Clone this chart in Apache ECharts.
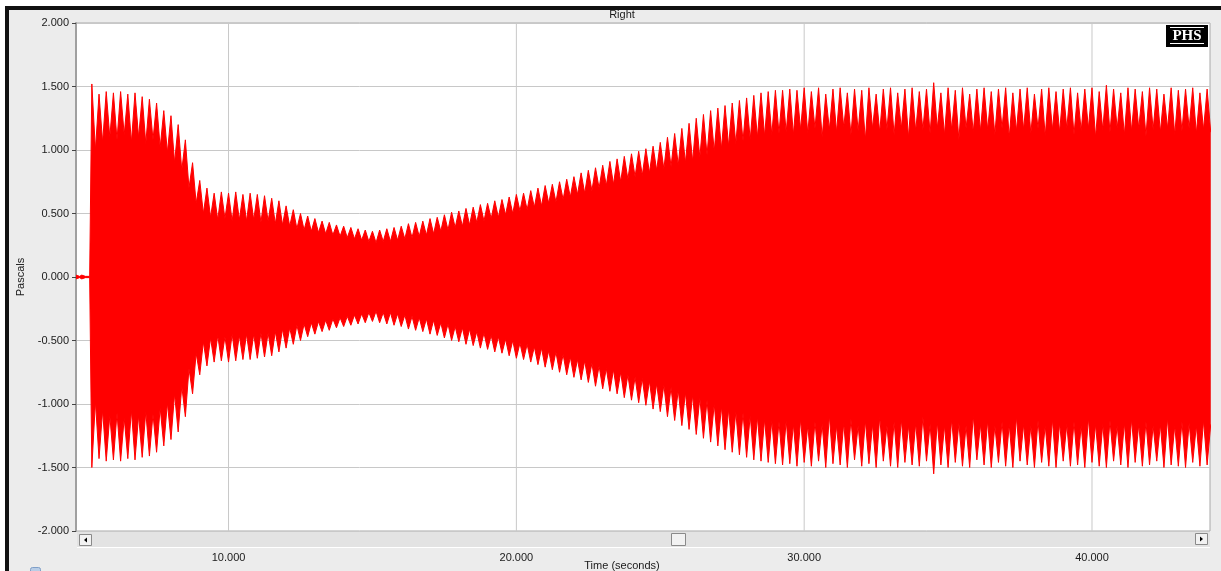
<!DOCTYPE html>
<html>
<head>
<meta charset="utf-8">
<script src="https://cdn.jsdelivr.net/npm/echarts@6/dist/echarts.min.js"></script>
<style>html,body{margin:0;padding:0;background:#fff}#c{width:1221px;height:571px}</style>
</head>
<body>
<div id="c"></div>
<script>
// ---- data (time in seconds, pressure in Pascals) ----
// one entry per visible oscillation spike (plus the quiet lead-in)
const spikeTimes = [4.7, 4.9, 5.05,
  5.25, 5.5, 5.75, 6.0,   6.25, 6.5, 6.75, 7.0,   7.25, 7.5, 7.75, 8.0,   8.25, 8.5, 8.75, 9.0,
  9.25, 9.5, 9.75, 10.0,  10.25, 10.5, 10.75, 11.0, 11.25, 11.5, 11.75, 12.0, 12.25, 12.5, 12.75, 13.0,
  13.25, 13.5, 13.75, 14.0, 14.25, 14.5, 14.75, 15.0, 15.25, 15.5, 15.75, 16.0, 16.25, 16.5, 16.75, 17.0,
  17.25, 17.5, 17.75, 18.0, 18.25, 18.5, 18.75, 19.0, 19.25, 19.5, 19.75, 20.0, 20.25, 20.5, 20.75, 21.0,
  21.25, 21.5, 21.75, 22.0, 22.25, 22.5, 22.75, 23.0, 23.25, 23.5, 23.75, 24.0, 24.25, 24.5, 24.75, 25.0,
  25.25, 25.5, 25.75, 26.0, 26.25, 26.5, 26.75, 27.0, 27.25, 27.5, 27.75, 28.0, 28.25, 28.5, 28.75, 29.0,
  29.25, 29.5, 29.75, 30.0, 30.25, 30.5, 30.75, 31.0, 31.25, 31.5, 31.75, 32.0, 32.25, 32.5, 32.75, 33.0,
  33.25, 33.5, 33.75, 34.0, 34.25, 34.5, 34.75, 35.0, 35.25, 35.5, 35.75, 36.0, 36.25, 36.5, 36.75, 37.0,
  37.25, 37.5, 37.75, 38.0, 38.25, 38.5, 38.75, 39.0, 39.25, 39.5, 39.75, 40.0, 40.25, 40.5, 40.75, 41.0,
  41.25, 41.5, 41.75, 42.0, 42.25, 42.5, 42.75, 43.0, 43.25, 43.5, 43.75, 44.0];

// upper spike tips
const hiPeak = [0.015, 0.015, 0.015,
  1.52, 1.44, 1.46, 1.45,  1.46, 1.44, 1.45, 1.42,  1.40, 1.37, 1.31, 1.27,  1.20, 1.08, 0.90, 0.76,
  0.70, 0.66, 0.67, 0.66,  0.67, 0.65, 0.66, 0.65,  0.64, 0.62, 0.60, 0.56,  0.53, 0.50, 0.48, 0.46,
  0.44, 0.43, 0.41, 0.40,  0.39, 0.38, 0.37, 0.36,  0.37, 0.38, 0.39, 0.40,  0.42, 0.43, 0.44, 0.46,
  0.47, 0.49, 0.51, 0.52,  0.54, 0.55, 0.57, 0.58,  0.60, 0.61, 0.63, 0.65,  0.66, 0.68, 0.70, 0.72,
  0.73, 0.75, 0.77, 0.79,  0.82, 0.84, 0.86, 0.88,  0.91, 0.93, 0.95, 0.97,  0.99, 1.01, 1.03, 1.06,
  1.10, 1.13, 1.17, 1.21,  1.25, 1.28, 1.31, 1.33,  1.35, 1.37, 1.39, 1.41,  1.43, 1.45, 1.46, 1.47,
  1.47, 1.48, 1.47, 1.49,  1.46, 1.49, 1.44, 1.48,  1.49, 1.45, 1.48, 1.47,  1.49, 1.44, 1.48, 1.49,
  1.45, 1.48, 1.49, 1.46,  1.48, 1.53, 1.45, 1.49,  1.47, 1.49, 1.44, 1.48,  1.49, 1.46, 1.48, 1.49,
  1.45, 1.48, 1.49, 1.44,  1.48, 1.49, 1.46, 1.48,  1.49, 1.45, 1.48, 1.49,  1.46, 1.51, 1.48, 1.45,
  1.49, 1.48, 1.46, 1.49,  1.48, 1.44, 1.49, 1.47,  1.48, 1.49, 1.45, 1.48];

// bottom of the white notches between upper spikes
const hiNotch = [0.005, 0.005, 0.005,
  1.00, 1.06, 1.10, 1.08,  1.12, 1.06, 1.10, 1.05,  1.08, 1.02, 0.98, 0.90,  0.84, 0.70, 0.58, 0.50,
  0.47, 0.45, 0.46, 0.44,  0.45, 0.44, 0.45, 0.43,  0.44, 0.42, 0.41, 0.40,  0.38, 0.37, 0.36, 0.35,
  0.34, 0.33, 0.32, 0.31,  0.30, 0.29, 0.28, 0.27,  0.28, 0.28, 0.29, 0.30,  0.31, 0.32, 0.33, 0.34,
  0.36, 0.37, 0.39, 0.40,  0.41, 0.43, 0.44, 0.46,  0.47, 0.49, 0.50, 0.52,  0.53, 0.55, 0.56, 0.58,
  0.59, 0.61, 0.63, 0.65,  0.66, 0.68, 0.70, 0.72,  0.73, 0.75, 0.77, 0.79,  0.80, 0.82, 0.84, 0.85,
  0.87, 0.88, 0.90, 0.91,  0.94, 0.96, 0.99, 1.01,  1.03, 1.05, 1.07, 1.08,  1.10, 1.11, 1.12, 1.13,
  1.14, 1.12, 1.16, 1.13,  1.17, 1.10, 1.16, 1.14,  1.18, 1.12, 1.15, 1.08,  1.17, 1.14, 1.16, 1.12,
  1.17, 1.10, 1.15, 1.16,  1.13, 1.17, 1.12, 1.16,  1.08, 1.17, 1.14, 1.15,  1.16, 1.12, 1.17, 1.10,
  1.15, 1.16, 1.13, 1.17,  1.11, 1.16, 1.14, 1.17,  1.12, 1.15, 1.17, 1.10,  1.16, 1.14, 1.17, 1.12,
  1.15, 1.17, 1.11, 1.16,  1.14, 1.17, 1.12, 1.15,  1.17, 1.13, 1.16, 1.14];

// lower spike tips
const loPeak = [-0.015, -0.015, -0.015,
  -1.50, -1.43, -1.45, -1.44,  -1.45, -1.43, -1.44, -1.42,  -1.41, -1.38, -1.33, -1.28,  -1.22, -1.10, -0.92, -0.77,
  -0.70, -0.67, -0.66, -0.67,  -0.66, -0.65, -0.65, -0.64,  -0.63, -0.62, -0.59, -0.56,  -0.53, -0.50, -0.47, -0.45,
  -0.43, -0.42, -0.40, -0.39,  -0.38, -0.37, -0.36, -0.35,  -0.36, -0.37, -0.38, -0.39,  -0.41, -0.42, -0.43, -0.45,
  -0.46, -0.48, -0.50, -0.51,  -0.53, -0.54, -0.56, -0.57,  -0.59, -0.60, -0.62, -0.64,  -0.65, -0.67, -0.69, -0.71,
  -0.73, -0.75, -0.77, -0.79,  -0.81, -0.83, -0.86, -0.88,  -0.90, -0.92, -0.95, -0.97,  -0.99, -1.01, -1.04, -1.06,
  -1.10, -1.13, -1.17, -1.20,  -1.24, -1.27, -1.30, -1.33,  -1.36, -1.38, -1.40, -1.42,  -1.44, -1.45, -1.46, -1.47,
  -1.48, -1.47, -1.49, -1.46,  -1.49, -1.45, -1.50, -1.47,  -1.48, -1.50, -1.44, -1.49,  -1.47, -1.50, -1.45, -1.49,
  -1.50, -1.46, -1.48, -1.49,  -1.45, -1.55, -1.48, -1.50,  -1.46, -1.49, -1.50, -1.44,  -1.48, -1.50, -1.46, -1.49,
  -1.50, -1.45, -1.48, -1.50,  -1.46, -1.49, -1.50, -1.45,  -1.49, -1.48, -1.50, -1.46,  -1.49, -1.50, -1.45, -1.48,
  -1.50, -1.46, -1.49, -1.48,  -1.45, -1.50, -1.48, -1.49,  -1.50, -1.46, -1.49, -1.48];

// top of the white notches between lower spikes
const loNotch = [-0.005, -0.005, -0.005,
  -0.98, -1.05, -1.09, -1.07,  -1.11, -1.05, -1.09, -1.06,  -1.08, -1.03, -0.99, -0.92,  -0.86, -0.72, -0.60, -0.51,
  -0.48, -0.46, -0.47, -0.45,  -0.46, -0.45, -0.45, -0.44,  -0.44, -0.43, -0.41, -0.40,  -0.38, -0.37, -0.36, -0.35,
  -0.34, -0.33, -0.32, -0.31,  -0.30, -0.29, -0.28, -0.27,  -0.28, -0.28, -0.29, -0.30,  -0.31, -0.32, -0.33, -0.34,
  -0.36, -0.37, -0.39, -0.40,  -0.41, -0.43, -0.44, -0.46,  -0.47, -0.49, -0.50, -0.52,  -0.53, -0.55, -0.56, -0.58,
  -0.59, -0.61, -0.63, -0.65,  -0.66, -0.68, -0.70, -0.72,  -0.73, -0.75, -0.77, -0.79,  -0.80, -0.82, -0.84, -0.85,
  -0.87, -0.89, -0.91, -0.93,  -0.95, -0.97, -1.00, -1.02,  -1.04, -1.06, -1.07, -1.09,  -1.10, -1.12, -1.13, -1.14,
  -1.13, -1.16, -1.12, -1.17,  -1.14, -1.16, -1.09, -1.17,  -1.15, -1.12, -1.17, -1.13,  -1.16, -1.10, -1.17, -1.14,
  -1.12, -1.17, -1.15, -1.10,  -1.16, -1.14, -1.17, -1.12,  -1.15, -1.17, -1.09, -1.16,  -1.13, -1.17, -1.14, -1.16,
  -1.10, -1.16, -1.17, -1.13,  -1.17, -1.12, -1.15, -1.16,  -1.14, -1.17, -1.11, -1.16,  -1.16, -1.13, -1.17, -1.15,
  -1.12, -1.16, -1.14, -1.17,  -1.16, -1.11, -1.17, -1.14,  -1.15, -1.17, -1.13, -1.16];

const xTicks = [10, 20, 30, 40];
const xMin = 4.7, xMax = 44.1;
const yMin = -2, yMax = 2, yStep = 0.5;

// ---- chart ----
const FONT = 'Liberation Sans';
const RED = '#ff0000';
const HALF_PITCH = 0.125; // the notch sits midway between two spikes
const chart = echarts.init(document.getElementById('c'), null, {renderer: 'canvas'});

function zigzag(peaks, notches) {
  const out = [];
  spikeTimes.forEach((t, i) => {
    out.push([t, peaks[i]]);
    out.push([t + HALF_PITCH, notches[i]]);
  });
  return out;
}

function vGrid(params, api) {
  const v = api.value(0);
  const a = api.coord([v, yMax]);
  const b = api.coord([v, yMin]);
  return {type: 'line', shape: {x1: a[0], y1: a[1], x2: b[0], y2: b[1]}, style: {stroke: '#c8c8c8', lineWidth: 1}};
}

const option = {
  backgroundColor: '#ececec',
  animation: false,
  grid: {left: 76, top: 23, width: 1134, height: 508, show: true, backgroundColor: '#ffffff', borderColor: '#a8a8a8', borderWidth: 1},
  xAxis: {
    type: 'value', min: xMin, max: xMax, offset: 16,
    axisLine: {show: false},
    axisTick: {show: true, length: 3, customValues: xTicks, lineStyle: {color: '#444'}},
    axisLabel: {customValues: xTicks, margin: 5, fontFamily: FONT, fontSize: 11, color: '#1a1a1a', formatter: v => v.toFixed(3)},
    splitLine: {show: false}
  },
  yAxis: {
    type: 'value', min: yMin, max: yMax, interval: yStep,
    name: 'Pascals', nameLocation: 'middle', nameGap: 50, nameRotate: 90,
    nameTextStyle: {fontFamily: FONT, fontSize: 11, color: '#1a1a1a'},
    axisLine: {show: true, lineStyle: {color: '#a0a0a0', width: 2}},
    axisTick: {show: true, length: 4, lineStyle: {color: '#444'}},
    axisLabel: {margin: 7, fontFamily: FONT, fontSize: 11, color: '#1a1a1a', formatter: v => v.toFixed(3)},
    splitLine: {show: true, lineStyle: {color: '#c8c8c8', width: 1}}
  },
  series: [
    {type: 'custom', data: xTicks.map(v => [v]), renderItem: vGrid, silent: true, z: 1, encode: {x: 0}},
    {type: 'line', data: zigzag(hiPeak, hiNotch), symbol: 'none', silent: true, z: 3,
      lineStyle: {color: RED, width: 1}, areaStyle: {color: RED, opacity: 1, origin: 0}},
    {type: 'line', data: zigzag(loPeak, loNotch), symbol: 'none', silent: true, z: 3,
      lineStyle: {color: RED, width: 1}, areaStyle: {color: RED, opacity: 1, origin: 0}}
  ],
  graphic: [
    // outer white margins and black frame
    {type: 'rect', shape: {x: 0, y: 0, width: 1221, height: 6}, style: {fill: '#ffffff'}, silent: true},
    {type: 'rect', shape: {x: 0, y: 0, width: 5, height: 571}, style: {fill: '#ffffff'}, silent: true},
    {type: 'rect', shape: {x: 5, y: 6, width: 1216, height: 4}, style: {fill: '#111111'}, silent: true},
    {type: 'rect', shape: {x: 5, y: 6, width: 4, height: 565}, style: {fill: '#111111'}, silent: true},
    {type: 'rect', shape: {x: 30.5, y: 567.5, width: 10, height: 6, r: 2}, style: {fill: '#b9cde6', stroke: '#7f9fc8', lineWidth: 1}, silent: true},
    // title and axis name
    {type: 'text', x: 622, y: 15, silent: true, style: {text: 'Right', fontFamily: FONT, fontSize: 11, fill: '#1a1a1a', align: 'center', verticalAlign: 'middle'}},
    {type: 'text', x: 622, y: 566, silent: true, style: {text: 'Time (seconds)', fontFamily: FONT, fontSize: 11, fill: '#1a1a1a', align: 'center', verticalAlign: 'middle'}},
    // scrollbar
    {type: 'rect', z: 50, silent: true, shape: {x: 77, y: 532, width: 1133, height: 15}, style: {fill: '#e3e3e3'}},
    {type: 'rect', z: 50, silent: true, shape: {x: 77, y: 547, width: 1133, height: 1}, style: {fill: '#ffffff'}},
    {type: 'rect', z: 51, silent: true, shape: {x: 79.5, y: 534.5, width: 12, height: 11}, style: {fill: '#f2f2f2', stroke: '#8a8a8a', lineWidth: 1}},
    {type: 'polygon', z: 52, silent: true, shape: {points: [[84, 540], [87, 537.5], [87, 542.5]]}, style: {fill: '#000'}},
    {type: 'rect', z: 51, silent: true, shape: {x: 1195.5, y: 533.5, width: 12, height: 11}, style: {fill: '#f2f2f2', stroke: '#8a8a8a', lineWidth: 1}},
    {type: 'polygon', z: 52, silent: true, shape: {points: [[1203, 539], [1200, 536.5], [1200, 541.5]]}, style: {fill: '#000'}},
    {type: 'rect', z: 51, silent: true, shape: {x: 671.5, y: 533.5, width: 14, height: 12}, style: {fill: '#f2f2f2', stroke: '#8a8a8a', lineWidth: 1}},
    // PHS badge
    {type: 'rect', z: 60, silent: true, shape: {x: 1166, y: 25, width: 42, height: 22}, style: {fill: '#000'}},
    {type: 'text', z: 61, silent: true, x: 1187, y: 36, style: {text: 'PHS', fontFamily: 'Liberation Serif', fontWeight: 'bold', fontSize: 15, fill: '#fff', align: 'center', verticalAlign: 'middle'}},
    {type: 'rect', z: 61, silent: true, shape: {x: 1170, y: 27, width: 34, height: 1}, style: {fill: '#fff'}},
    {type: 'rect', z: 61, silent: true, shape: {x: 1170, y: 43, width: 34, height: 1}, style: {fill: '#fff'}}
  ]
};
chart.setOption(option);
</script>
</body>
</html>
